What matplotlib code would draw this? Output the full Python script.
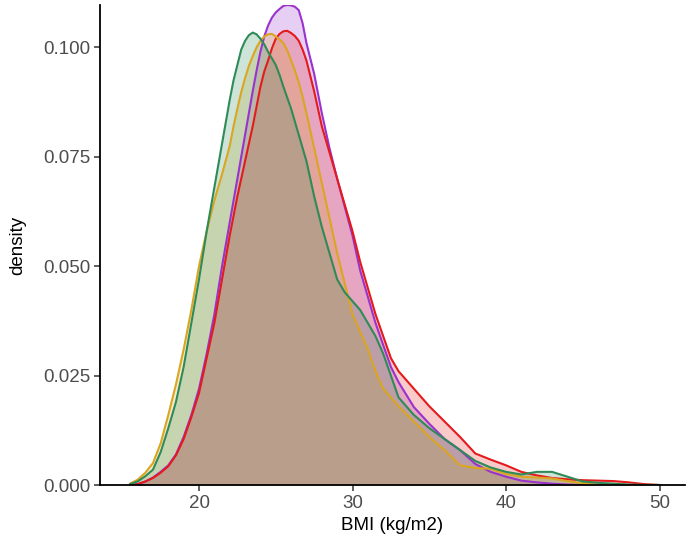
import matplotlib
matplotlib.use("Agg")
import matplotlib.pyplot as plt
import numpy as np

# BMI grid (kg/m2)
bmi = [15.5, 16, 16.5, 17, 17.5, 18, 18.5, 19, 19.5, 20, 20.5, 21, 21.5, 22,
       22.25, 22.5, 22.75, 23, 23.25, 23.5, 23.75, 24, 24.25, 24.5, 24.75, 25,
       25.25, 25.5, 25.75, 26, 26.25, 26.5, 26.75, 27,
       27.5, 28, 28.5, 29, 29.5, 30,
       30.5, 31, 31.5, 32, 32.5, 33, 34, 35, 36, 37, 38, 39, 40, 41, 42, 43, 44,
       45, 46, 47, 48, 49, 50]

purple = [0.0, 0.0002, 0.0008, 0.0017, 0.003, 0.0045, 0.007, 0.011, 0.016, 0.022,
          0.030, 0.039, 0.050, 0.060,
          0.065, 0.070, 0.075, 0.080, 0.085, 0.090, 0.0947, 0.099, 0.1025, 0.105, 0.1068, 0.108,
          0.1088, 0.1095, 0.1097, 0.1096, 0.1093, 0.1085, 0.1055, 0.101,
          0.094, 0.085, 0.077, 0.070, 0.0635, 0.057,
          0.049, 0.043, 0.037, 0.032, 0.027, 0.0235, 0.0178, 0.014, 0.0105, 0.008,
          0.0048, 0.003, 0.0019, 0.001, 0.0006, 0.0003, 0.0001, 0.0, 0.0, 0.0, 0.0,
          0.0, 0.0]

red = [0.0, 0.0002, 0.0008, 0.0016, 0.0028, 0.0043, 0.0068, 0.0105, 0.0155, 0.021,
       0.029, 0.037, 0.047, 0.057,
       0.0615, 0.066, 0.070, 0.074, 0.078, 0.082, 0.0865, 0.091, 0.0945, 0.097, 0.0998, 0.102,
       0.1031, 0.1037, 0.1038, 0.1033, 0.1026, 0.1015, 0.0995, 0.097,
       0.090, 0.082, 0.076, 0.070, 0.064, 0.058,
       0.051, 0.045, 0.039, 0.034, 0.029, 0.026, 0.022, 0.018, 0.0145, 0.011,
       0.0072, 0.0058, 0.0045, 0.003, 0.0022, 0.0016, 0.0013, 0.0011, 0.001,
       0.0009, 0.0006, 0.0002, 0.0]

gold = [0.0003, 0.0012, 0.0028, 0.005, 0.0095, 0.016, 0.023, 0.031, 0.040, 0.050,
        0.058, 0.065, 0.071, 0.0775,
        0.082, 0.086, 0.0898, 0.093, 0.0958, 0.098, 0.100, 0.1015, 0.1025, 0.103, 0.1031, 0.1025,
        0.1018, 0.101, 0.0993, 0.097, 0.0947, 0.092, 0.0887, 0.085,
        0.077, 0.069, 0.061, 0.053, 0.046, 0.039,
        0.035, 0.031, 0.026, 0.022, 0.020, 0.018, 0.0145, 0.011, 0.008, 0.0045,
        0.0039, 0.0037, 0.0025, 0.0019, 0.0017, 0.0015, 0.0009, 0.0004, 0.0001,
        0.0, 0.0, 0.0, 0.0]

green = [0.0002, 0.0008, 0.002, 0.0035, 0.0075, 0.013, 0.019, 0.027, 0.037, 0.047,
         0.058, 0.068, 0.078, 0.088,
         0.0925, 0.096, 0.0995, 0.1015, 0.1028, 0.1034, 0.1030, 0.102, 0.1007, 0.099, 0.0975, 0.096,
         0.0937, 0.091, 0.0885, 0.086, 0.083, 0.080, 0.077, 0.074,
         0.066, 0.059, 0.053, 0.047, 0.044, 0.042,
         0.040, 0.037, 0.034, 0.030, 0.025, 0.020, 0.016, 0.013, 0.0105, 0.008,
         0.0055, 0.004, 0.003, 0.0024, 0.003, 0.003, 0.0019, 0.0008, 0.0005,
         0.0003, 0.0001, 0.0, 0.0]

series = [purple, red, gold, green]
colors = ["#9A32CD", "#E41A1C", "#DAA520", "#2E8B57"]

x_ticks = [20, 30, 40, 50]
y_ticks = [0.0, 0.025, 0.05, 0.075, 0.1]
y_tick_labels = ["0.000", "0.025", "0.050", "0.075", "0.100"]

plt.rcParams['font.family'] = ['Liberation Sans', 'DejaVu Sans']

fig = plt.figure(figsize=(6.9, 5.48), dpi=100)
ax = fig.add_axes([100/690, 63/548, 585/690, 480/548])

xs = np.array(bmi)
for vals, col in zip(series, colors):
    ys = np.array(vals)
    ax.fill_between(xs, 0, ys, color=col, alpha=0.23, linewidth=0)
    ax.plot(xs, ys, color=col, lw=1.5, solid_capstyle='round', solid_joinstyle='round')

ax.set_xlim(13.55, 51.66)
ax.set_ylim(0, max(max(s) for s in series))
ax.set_xticks(x_ticks)
ax.set_xticklabels([str(t) for t in x_ticks])
ax.set_yticks(y_ticks)
ax.set_yticklabels(y_tick_labels)

for s in ['top', 'right']:
    ax.spines[s].set_visible(False)
for s in ['left', 'bottom']:
    ax.spines[s].set_linewidth(1.3)
    ax.spines[s].set_color('black')
    ax.spines[s].set_zorder(10)

ax.tick_params(axis='both', length=4, width=1.1, color='#333333',
               labelsize=13.5, labelcolor='#4D4D4D', pad=3)
ax.set_xlabel("BMI (kg/m2)", fontsize=13.5, color='black', labelpad=4)
ax.set_ylabel("density", fontsize=13.5, color='black', labelpad=12)

fig.savefig("out.png", dpi=100)
